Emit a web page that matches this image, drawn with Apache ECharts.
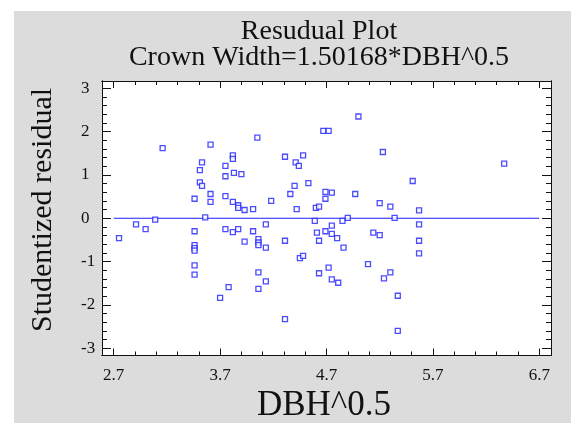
<!DOCTYPE html>
<html>
<head>
<meta charset="utf-8">
<script src="https://cdn.jsdelivr.net/npm/echarts@6/dist/echarts.min.js"></script>
<style>
  html, body { margin: 0; padding: 0; background: #fff; }
  .frame { position: relative; width: 571px; height: 423px; }
  .frame-bg { position: absolute; left: 14px; top: 11px; right: 0; bottom: 0; background: #dcdcdc; }
  #chart { position: absolute; left: 0; top: 0; width: 571px; height: 423px; }
</style>
</head>
<body>
<div class="frame">
  <div class="frame-bg"></div>
  <div id="chart"></div>
</div>
<script>
// DBH^0.5 (x) and studentized residual (y)
const dbh = [
  2.75, 2.91, 3.00, 3.09, 3.16, 3.46, 3.46, 3.46, 3.46, 3.46, 3.46, 3.46,
  3.51, 3.51, 3.53, 3.53, 3.56, 3.61, 3.61, 3.61, 3.70, 3.75, 3.75, 3.75,
  3.75, 3.78, 3.82, 3.82, 3.82, 3.82, 3.83, 3.87, 3.87, 3.87, 3.90, 3.93,
  3.93, 4.01, 4.01, 4.05, 4.06, 4.06, 4.06, 4.06, 4.06, 4.13, 4.13, 4.13,
  4.18, 4.31, 4.31, 4.31, 4.36, 4.40, 4.41, 4.42, 4.44, 4.45, 4.48, 4.48,
  4.53, 4.59, 4.60, 4.61, 4.63, 4.63, 4.63, 4.67, 4.69, 4.69, 4.69, 4.72,
  4.72, 4.75, 4.75, 4.75, 4.75, 4.80, 4.81, 4.85, 4.86, 4.90, 4.97, 5.00,
  5.09, 5.14, 5.20, 5.20, 5.23, 5.24, 5.30, 5.30, 5.34, 5.37, 5.37, 5.51,
  5.57, 5.57, 5.57, 5.57, 6.37
]
const resid = [
  -0.46, -0.14, -0.25, -0.03, 1.62, 0.45, -0.30, -0.62, -0.69, -0.75, -1.09, -1.30,
  1.11, 0.83, 1.29, 0.75, 0.02, 1.70, 0.56, 0.38, -1.84, 1.21, 0.97, 0.51,
  -0.25, -1.59, 1.45, 1.37, 0.38, -0.32, 1.05, 0.30, 0.24, -0.25, 1.02, 0.19,
  -0.54, 0.21, -0.30, 1.86, -0.48, -0.56, -0.62, -1.25, -1.63, -0.14, -0.68, -1.46,
  0.40, 1.42, -0.52, -2.33, 0.56, 0.75, 1.29, 0.21, 1.21, -0.92, 1.45, -0.87,
  0.81, -0.06, 0.24, -0.33, 0.27, -0.52, -1.27, 2.02, 0.61, 0.45, -0.30, 2.02,
  -1.14, 0.59, -0.17, -0.36, -1.41, -0.46, -1.49, -0.06, -0.68, 0.01, 0.56, 2.35,
  -1.06, -0.33, 0.35, -0.39, 1.53, -1.39, 0.27, -1.25, 0.01, -1.79, -2.60, 0.86,
  0.18, -0.14, -0.52, -0.81, 1.26
]

// zero reference line
const zeroLineX = [2.7, 6.7]
const zeroLineY = [0, 0]

// axes
const xRange = [2.59, 6.81]
const yRange = [-3.17, 3.17]
const xMajor = [2.7, 3.7, 4.7, 5.7, 6.7]
const xMinor = [2.7, 2.9, 3.1, 3.3, 3.5, 3.7, 3.9, 4.1, 4.3, 4.5, 4.7, 4.9, 5.1, 5.3, 5.5, 5.7, 5.9, 6.1, 6.3, 6.5, 6.7]
const yMajor = [-3, -2, -1, 0, 1, 2, 3]
const yMinor = [-3, -2.8, -2.6, -2.4, -2.2, -2, -1.8, -1.6, -1.4, -1.2, -1, -0.8, -0.6, -0.4, -0.2,
  0, 0.2, 0.4, 0.6, 0.8, 1, 1.2, 1.4, 1.6, 1.8, 2, 2.2, 2.4, 2.6, 2.8, 3]

const SERIF = '"Liberation Serif", "DejaVu Serif", serif'
const INK = '#111'
const BLUE = '#1f1fff'

function xAx(position, ticks, len, withLabel) {
  return {
    type: 'value',
    position,
    min: xRange[0],
    max: xRange[1],
    axisLine: { show: true, onZero: false, lineStyle: { color: INK, width: 1 } },
    axisTick: { show: true, inside: true, length: len, customValues: ticks, lineStyle: { color: INK } },
    axisLabel: withLabel
      ? { show: true, customValues: xMajor, margin: 12, color: INK, fontFamily: SERIF, fontSize: 17 }
      : { show: false },
    splitLine: { show: false }
  }
}

function yAx(position, ticks, len, withLabel) {
  return {
    type: 'value',
    position,
    min: yRange[0],
    max: yRange[1],
    axisLine: { show: true, onZero: false, lineStyle: { color: INK, width: 1 } },
    axisTick: { show: true, inside: true, length: len, customValues: ticks, lineStyle: { color: INK } },
    axisLabel: withLabel
      ? { show: true, customValues: yMajor, margin: 21, align: 'left', color: INK, fontFamily: SERIF, fontSize: 17 }
      : { show: false },
    splitLine: { show: false }
  }
}

const chart = echarts.init(document.getElementById('chart'), null, { renderer: 'canvas' })

chart.setOption({
  backgroundColor: 'transparent',
  animation: false,
  grid: {
    left: 102, right: 20, top: 81, bottom: 67.5,
    show: true, backgroundColor: '#fff', borderWidth: 0
  },
  xAxis: [
    xAx('bottom', xMajor, 7, true),
    xAx('bottom', xMinor, 4, false),
    xAx('top', xMajor, 7, false),
    xAx('top', xMinor, 4, false)
  ],
  yAxis: [
    yAx('left', yMajor, 9, true),
    yAx('left', yMinor, 5, false),
    yAx('right', yMajor, 9, false),
    yAx('right', yMinor, 5, false)
  ],
  graphic: [
    {
      type: 'text', x: 319, y: 31.5,
      style: { text: 'Resudual Plot', font: '28px ' + SERIF, fill: INK, align: 'center', verticalAlign: 'middle' }
    },
    {
      type: 'text', x: 319, y: 58,
      style: { text: 'Crown Width=1.50168*DBH^0.5', font: '28px ' + SERIF, fill: INK, align: 'center', verticalAlign: 'middle' }
    },
    {
      type: 'text', x: 324, y: 406,
      style: { text: 'DBH^0.5', font: '35px ' + SERIF, fill: INK, align: 'center', verticalAlign: 'middle' }
    },
    {
      type: 'text', x: 43, y: 210, rotation: Math.PI / 2,
      style: { text: 'Studentized residual', font: '30px ' + SERIF, fill: INK, align: 'center', verticalAlign: 'middle' }
    }
  ],
  series: [
    {
      type: 'line',
      xAxisIndex: 0,
      yAxisIndex: 0,
      data: zeroLineX.map((x, i) => [x, zeroLineY[i]]),
      symbol: 'none',
      lineStyle: { color: BLUE, width: 1 },
      silent: true,
      z: 2
    },
    {
      type: 'scatter',
      xAxisIndex: 0,
      yAxisIndex: 0,
      data: dbh.map((x, i) => [x, resid[i]]),
      symbol: 'rect',
      symbolSize: 5,
      itemStyle: { color: '#fff', borderColor: BLUE, borderWidth: 1.3 },
      z: 3
    }
  ]
})
</script>
</body>
</html>
